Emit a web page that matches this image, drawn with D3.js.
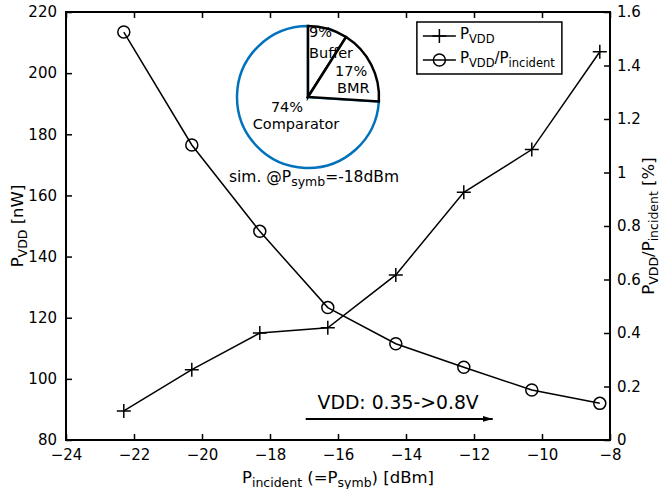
<!DOCTYPE html>
<html>
<head>
<meta charset="utf-8">
<script src="https://cdn.jsdelivr.net/npm/d3@7"></script>
<style>
  body { margin: 0; background: #fff; }
  text { font-family: "DejaVu Sans", sans-serif; fill: #000; }
</style>
</head>
<body>
<div id="container"></div>
<script>
// input power [dBm]
var pIncident = [-22.3, -20.3, -18.3, -16.3, -14.3, -12.3, -10.3, -8.3];
// supply power [nW] (left axis)
var pVdd = [89.5, 103, 115, 116.7, 134, 161, 175, 207];
// efficiency P_VDD/P_incident [%] (right axis)
var ratio = [1.525, 1.103, 0.78, 0.495, 0.36, 0.272, 0.187, 0.137];

var xTicks = [-24, -22, -20, -18, -16, -14, -12, -10, -8];
var yLeftTicks = [80, 100, 120, 140, 160, 180, 200, 220];
var yRightTicks = [0, 0.2, 0.4, 0.6, 0.8, 1, 1.2, 1.4, 1.6];

// power breakdown pie (sim. @ -18dBm)
var pieNames = ["Buffer", "BMR", "Comparator"];
var pieShares = [9, 17, 74];

var W = 661, H = 489,
    margin = {top: 12, bottom: 49, left: 66, right: 51},
    width = W - margin.left - margin.right,
    height = H - margin.top - margin.bottom;

var svg = d3.select("#container").append("svg").attr("width", W).attr("height", H);
var g = svg.append("g").attr("transform", "translate(" + margin.left + "," + margin.top + ")");

var xScale = d3.scaleLinear().domain([-24, -8]).range([0, width]);
var yL = d3.scaleLinear().domain([80, 220]).range([height, 0]);
var yR = d3.scaleLinear().domain([0, 1.6]).range([height, 0]);

var fmt = d3.format("d");
var fmtR = function(d) { return String(+d.toFixed(1)); };

function styleAxis(sel) {
  sel.select(".domain").remove();
  sel.selectAll(".tick line").attr("stroke", "#000").attr("stroke-width", 1.5);
  sel.selectAll(".tick text").style("font-size", "15px").attr("fill", "#000");
}

g.append("g").attr("transform", "translate(0," + height + ")")
  .call(d3.axisBottom(xScale).tickValues(xTicks).tickFormat(fmt).tickSizeInner(-6).tickSizeOuter(0).tickPadding(9))
  .call(styleAxis);
g.append("g")
  .call(d3.axisTop(xScale).tickValues(xTicks).tickFormat("").tickSizeInner(-6).tickSizeOuter(0))
  .call(styleAxis);
g.append("g")
  .call(d3.axisLeft(yL).tickValues(yLeftTicks).tickFormat(fmt).tickSizeInner(-6).tickSizeOuter(0).tickPadding(9))
  .call(styleAxis);
g.append("g").attr("transform", "translate(" + width + ",0)")
  .call(d3.axisRight(yR).tickValues(yRightTicks).tickFormat(fmtR).tickSizeInner(-6).tickSizeOuter(0).tickPadding(7))
  .call(styleAxis);

// box
g.append("rect").attr("width", width).attr("height", height)
  .attr("fill", "none").attr("stroke", "#000").attr("stroke-width", 2);

// series 1: P_VDD with "+" markers
var line1 = d3.line().x(function(d, i) { return xScale(pIncident[i]); }).y(function(d) { return yL(d); });
g.append("path").datum(pVdd).attr("d", line1)
  .attr("fill", "none").attr("stroke", "#000").attr("stroke-width", 1.5);
var crossPath = "M-7,0H7M0,-7V7";
g.selectAll(".cross").data(pVdd).enter().append("path")
  .attr("class", "cross")
  .attr("transform", function(d, i) { return "translate(" + xScale(pIncident[i]) + "," + yL(d) + ")"; })
  .attr("d", crossPath).attr("stroke", "#000").attr("stroke-width", 1.5);

// series 2: ratio with "o" markers
var line2 = d3.line().x(function(d, i) { return xScale(pIncident[i]); }).y(function(d) { return yR(d); });
g.append("path").datum(ratio).attr("d", line2)
  .attr("fill", "none").attr("stroke", "#000").attr("stroke-width", 1.5);
g.selectAll(".circ").data(ratio).enter().append("circle")
  .attr("cx", function(d, i) { return xScale(pIncident[i]); })
  .attr("cy", function(d) { return yR(d); })
  .attr("r", 6).attr("fill", "none").attr("stroke", "#000").attr("stroke-width", 1.5);

// legend
var lg = g.append("g").attr("transform", "translate(" + (xScale(-13.68)) + ",10)");
lg.append("rect").attr("width", 145).attr("height", 52)
  .attr("fill", "#fff").attr("stroke", "#000").attr("stroke-width", 1.5);
function legendLabel(y, parts) {
  var txt = lg.append("text").attr("x", 43).attr("y", y).style("font-size", "15px");
  parts.forEach(function(p) {
    txt.append("tspan").text(p[0]).attr("dy", p[1]).style("font-size", p[2]);
  });
}
lg.append("line").attr("x1", 6).attr("x2", 39).attr("y1", 14).attr("y2", 14).attr("stroke", "#000").attr("stroke-width", 1.5);
lg.append("path").attr("transform", "translate(22.5,14)").attr("d", crossPath).attr("stroke", "#000").attr("stroke-width", 1.5);
lg.append("line").attr("x1", 6).attr("x2", 39).attr("y1", 38).attr("y2", 38).attr("stroke", "#000").attr("stroke-width", 1.5);
lg.append("circle").attr("cx", 22.5).attr("cy", 38).attr("r", 6).attr("fill", "none").attr("stroke", "#000").attr("stroke-width", 1.5);
legendLabel(17, [["P", 0, "15px"], ["VDD", 4, "11.5px"]]);
legendLabel(41, [["P", 0, "15px"], ["VDD", 4, "11.5px"], ["/P", -4, "15px"], ["incident", 4, "11.5px"]]);

// annotation arrow
svg.append("defs").append("marker").attr("id", "ah")
  .attr("viewBox", "0 0 10 6").attr("refX", 10).attr("refY", 3)
  .attr("markerWidth", 10).attr("markerHeight", 6).attr("markerUnits", "userSpaceOnUse")
  .attr("orient", "auto")
  .append("path").attr("d", "M0,0L10,3L0,6Z").attr("fill", "#000");
g.append("line")
  .attr("x1", xScale(-16.95)).attr("x2", xScale(-11.45))
  .attr("y1", yL(86.9)).attr("y2", yL(86.9))
  .attr("stroke", "#000").attr("stroke-width", 2).attr("marker-end", "url(#ah)");
g.append("text").attr("x", xScale(-16.6)).attr("y", yL(90.2))
  .style("font-size", "18.8px").text("VDD: 0.35->0.8V");

// inset pie
var cx = 242, cy = 85, R = 71;
var pg = g.append("g").attr("transform", "translate(" + cx + "," + cy + ")");
var pie = d3.pie().sort(null).value(function(d) { return d; });
var arcs = pie(pieShares);
var arc = d3.arc().innerRadius(0).outerRadius(R);
// comparator: blue circumference
pg.append("path").attr("d", arc(arcs[2])).attr("fill", "#fff")
  .attr("stroke", "#0072BD").attr("stroke-width", 2.5);
[0, 1].forEach(function(i) {
  pg.append("path").attr("d", arc(arcs[i])).attr("fill", "#fff")
    .attr("stroke", "#000").attr("stroke-width", 2.5).attr("stroke-linejoin", "miter");
});
// label anchors relative to pie centre: [x1, y1, x2, y2, anchor]
var labelOff = [[1, -60, 1, -39, "start"], [27, -21, 29, -4, "start"], [-21, 15, -12, 32, "middle"]];
arcs.forEach(function(a, i) {
  var o = labelOff[i];
  pg.append("text").attr("x", o[0]).attr("y", o[1]).attr("text-anchor", o[4])
    .style("font-size", "14.5px").text(pieShares[i] + "%");
  pg.append("text").attr("x", o[2]).attr("y", o[3]).attr("text-anchor", o[4])
    .style("font-size", "14.5px").text(pieNames[i]);
});
var simT = g.append("text").attr("x", cx + 6).attr("y", 170).attr("text-anchor", "middle").style("font-size", "15.5px");
simT.append("tspan").text("sim. @P");
simT.append("tspan").attr("dy", 4).style("font-size", "12.5px").text("symb");
simT.append("tspan").attr("dy", -4).text("=-18dBm");

// axis titles
var xt = svg.append("text").attr("x", margin.left + width / 2).attr("y", 483)
  .attr("text-anchor", "middle").style("font-size", "16.5px");
xt.append("tspan").text("P");
xt.append("tspan").attr("dy", 4).style("font-size", "12.5px").text("incident");
xt.append("tspan").attr("dy", -4).text(" (=P");
xt.append("tspan").attr("dy", 4).style("font-size", "12.5px").text("symb");
xt.append("tspan").attr("dy", -4).text(") [dBm]");

var yt = svg.append("text").attr("transform", "translate(23," + (margin.top + height / 2) + ") rotate(-90)")
  .attr("text-anchor", "middle").style("font-size", "16.5px");
yt.append("tspan").text("P");
yt.append("tspan").attr("dy", 4).style("font-size", "12.5px").text("VDD");
yt.append("tspan").attr("dy", -4).text(" [nW]");

var yt2 = svg.append("text").attr("transform", "translate(654," + (margin.top + height / 2) + ") rotate(-90)")
  .attr("text-anchor", "middle").style("font-size", "16.5px");
yt2.append("tspan").text("P");
yt2.append("tspan").attr("dy", 4).style("font-size", "12.5px").text("VDD");
yt2.append("tspan").attr("dy", -4).text("/P");
yt2.append("tspan").attr("dy", 4).style("font-size", "12.5px").text("incident");
yt2.append("tspan").attr("dy", -4).text(" [%]");
</script>
</body>
</html>
